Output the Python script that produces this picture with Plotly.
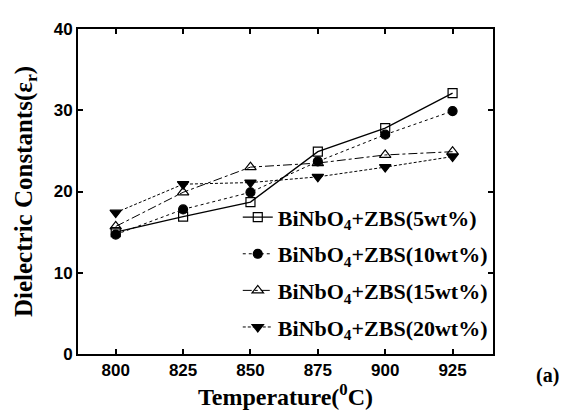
import plotly.graph_objects as go

temps = [800, 825, 850, 875, 900, 925]
s5 = [15.0, 16.9, 18.7, 24.9, 27.8, 32.1]
s10 = [14.7, 17.8, 19.9, 23.7, 27.0, 29.9]
s15 = [15.7, 19.9, 23.0, 23.5, 24.5, 24.9]
s20 = [17.4, 20.9, 21.1, 21.8, 23.0, 24.3]
names = ["BiNbO<sub>4</sub>+ZBS(5wt%)", "BiNbO<sub>4</sub>+ZBS(10wt%)",
         "BiNbO<sub>4</sub>+ZBS(15wt%)", "BiNbO<sub>4</sub>+ZBS(20wt%)"]
xticks = [800, 825, 850, 875, 900, 925]
yticks = [0, 10, 20, 30, 40]

styles = [
    dict(symbol="square-open", size=9, dash="solid", width=1.3),
    dict(symbol="circle", size=9, dash="dot", width=1.0),
    dict(symbol="triangle-up-open", size=10, dash="dashdot", width=1.0),
    dict(symbol="triangle-down", size=10, dash="3px,2px", width=1.0),
]

fig = go.Figure()
for i, (name, ys, st) in enumerate(zip(names, [s5, s10, s15, s20], styles)):
    fig.add_trace(go.Scatter(
        x=temps, y=ys, name=name, mode="lines+markers", legendgroup=f"g{i}",
        line=dict(color="black", dash=st["dash"], width=st["width"]),
        marker=dict(symbol=st["symbol"], size=st["size"], color="black",
                    line=dict(color="black", width=1.2)),
    ))

axis_common = dict(showline=True, linecolor="black", linewidth=2, mirror="ticks",
                   ticks="inside", ticklen=5, tickwidth=1.5, tickcolor="black",
                   showgrid=False, zeroline=False,
                   tickfont=dict(family="Liberation Sans", size=17, color="black", weight="bold"))

fig.update_layout(
    width=569, height=412,
    margin=dict(l=70, r=84, t=18, b=66),
    plot_bgcolor="white", paper_bgcolor="white",
    xaxis=dict(range=[786, 940], tickvals=xticks, **axis_common,
               title=dict(text="Temperature(<sup>0</sup>C)", standoff=6,
                          font=dict(family="Liberation Serif", size=24, color="black", weight="bold"))),
    yaxis=dict(range=[0, 40], tickvals=yticks, **axis_common,
               title=dict(text="Dielectric Constants(ε<sub>r</sub>)", standoff=14,
                          font=dict(family="Liberation Serif", size=25, color="black", weight="bold"))),
    legend=dict(x=0.385, y=0.485, xanchor="left", yanchor="top",
                bgcolor="rgba(0,0,0,0)", borderwidth=0,
                font=dict(family="Liberation Serif", size=22, color="black", weight="bold"),
                itemwidth=30, tracegroupgap=5),
    showlegend=True,
)
fig.add_annotation(text="(a)", xref="paper", yref="paper", x=1.165, y=-0.066,
                   xanchor="right", yanchor="middle", showarrow=False,
                   font=dict(family="Liberation Serif", size=20, color="black", weight="bold"))

fig.write_html("out.html")
